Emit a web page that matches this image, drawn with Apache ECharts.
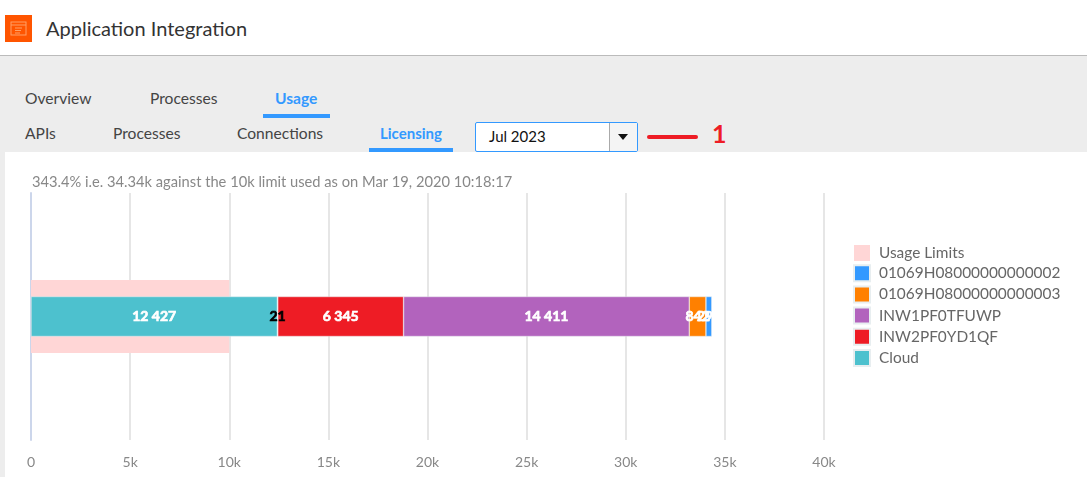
<!DOCTYPE html>
<html>
<head>
<meta charset="utf-8">
<title>Application Integration</title>
<script src="https://cdn.jsdelivr.net/npm/echarts@6/dist/echarts.min.js"></script>
<style>
    html, body { margin: 0; padding: 0; width: 1087px; height: 477px; overflow: hidden; background: #ededed; font-family: Lato, sans-serif; }
    .abs { position: absolute; white-space: nowrap; }
    .header { left: 0; top: 0; width: 1087px; height: 55px; background: #fff; border-bottom: 1px solid #bbb; }
    .title { left: 46px; top: 15px; font-size: 20px; line-height: 26px; color: #333; }
    .tab { font-size: 15.6px; line-height: 20px; color: #444; }
    .active { color: #3399ff; font-weight: bold; }
    .underline { background: #3399ff; height: 4px; }
    .select { left: 475px; top: 122px; width: 161px; height: 28px; background: #fff; border: 1px solid #3399ff; border-radius: 2px; }
    .select span { position: absolute; left: 13px; top: 3px; font-size: 15px; line-height: 20px; color: #111; }
    .select i { position: absolute; left: 133px; top: 0; width: 27px; height: 28px; border-left: 1px solid #aaa; background: #f4f4f4; }
    .select i:after { content: ""; position: absolute; left: 8px; top: 11px; border: 5px solid transparent; border-top: 6px solid #111; border-bottom: 0; }
    .mark { left: 647px; top: 135px; width: 51px; height: 4px; border-radius: 2px; background: #ee1c25; }
    .num { left: 712px; top: 119px; font-size: 25px; line-height: 28px; font-weight: bold; color: #ee1c25; }
    #chart { position: absolute; left: 5px; top: 152px; width: 1082px; height: 325px; background: #fff; }
</style>
</head>
<body>
<div class="abs header"></div>
<svg class="abs" style="left:5px;top:15px" width="27" height="27" viewBox="0 0 27 27">
    <rect width="27" height="27" fill="#ff5500"/>
    <rect x="6" y="7" width="15" height="13" fill="none" stroke="#ffa066" stroke-width="1"/>
    <path d="M6 10H21M10 13H17M10 15.5H16M10 18H15" stroke="#ffa066" stroke-width="1"/>
</svg>
<div class="abs title">Application Integration</div>

<div class="abs tab" style="left:25px;top:88px">Overview</div>
<div class="abs tab" style="left:150px;top:88px">Processes</div>
<div class="abs tab active" style="left:275px;top:88px">Usage</div>
<div class="abs underline" style="left:263px;top:114px;width:67px"></div>

<div class="abs tab" style="left:25px;top:123px">APIs</div>
<div class="abs tab" style="left:113px;top:123px">Processes</div>
<div class="abs tab" style="left:237px;top:123px">Connections</div>
<div class="abs tab active" style="left:380px;top:123px;font-size:15px">Licensing</div>
<div class="abs underline" style="left:369px;top:148px;width:84px"></div>

<div class="abs select"><span>Jul 2023</span><i></i></div>
<div class="abs mark"></div>
<div class="abs num">1</div>

<div id="chart"></div>

<script>
var categories = ['Usage'];
var limitName = 'Usage Limits';
var limitValues = [10000];
var xTicks = [0, 40000];

// left to right along the bar
var segmentNames = ['Cloud', 'Other', 'INW2PF0YD1QF', 'INW1PF0TFUWP', '01069H08000000000003', '01069H08000000000002'];
var cloudValues = [12427];
var otherValues = [21];
var inw2Values = [6345];
var inw1Values = [14411];
var h3Values = [842];
var h2Values = [294];

var legendNames = ['Usage Limits', '01069H08000000000002', '01069H08000000000003', 'INW1PF0TFUWP', 'INW2PF0YD1QF', 'Cloud'];
var subtitle = '343.4% i.e. 34.34k against the 10k limit used as on Mar 19, 2020 10:18:17';

var fontName = 'Lato';

function spacedNumber(value) {
    return String(value).replace(/\B(?=(\d{3})+$)/g, ' ');
}

function segment(name, values, color, labelColor) {
    return {
        name: name,
        type: 'bar',
        stack: 'usage',
        yAxisIndex: 1,
        z: 3,
        barWidth: 40,
        data: values,
        itemStyle: { color: color, borderColor: '#e8eef0', borderWidth: 0.5 },
        label: {
            show: true,
            position: 'inside',
            color: labelColor,
            fontFamily: fontName,
            fontWeight: 'bold',
            fontSize: 14,
            textBorderColor: labelColor,
            textBorderWidth: 0.7,
            formatter: function (p) { return spacedNumber(p.value); }
        }
    };
}

function initChart() {
    var myChart = echarts.init(document.getElementById('chart'));
    var option = {
        animation: false,
        title: {
            text: subtitle,
            left: 22,
            top: 18,
            textStyle: { color: '#888', fontFamily: fontName, fontSize: 14.7, fontWeight: 'normal' }
        },
        legend: {
            orient: 'vertical',
            left: 843,
            top: 88,
            itemWidth: 16,
            itemHeight: 16,
            itemGap: 3.2,
            icon: 'rect',
            data: legendNames,
            textStyle: { color: '#666', fontFamily: fontName, fontSize: 15.4, lineHeight: 16, padding: [0, 0, 0, 4] }
        },
        grid: { left: 26, top: 41, width: 793, height: 247 },
        xAxis: {
            type: 'value',
            min: xTicks[0],
            max: xTicks[1],
            interval: 5000,
            axisLine: { show: false },
            axisTick: { show: false },
            axisLabel: {
                color: '#888',
                fontFamily: fontName,
                fontSize: 14,
                margin: 15,
                formatter: function (v) { return v === 0 ? '0' : (v / 1000) + 'k'; }
            },
            splitLine: { lineStyle: { color: '#e6e6e6', width: 2 } }
        },
        yAxis: [
            {
                type: 'category',
                data: categories,
                axisLine: { lineStyle: { color: '#ccd6eb', width: 2 } },
                axisTick: { length: 11, lineStyle: { color: '#ccd6eb' } },
                axisLabel: { show: false }
            },
            {
                type: 'category',
                data: categories,
                show: false
            }
        ],
        series: [
            {
                name: limitName,
                type: 'bar',
                yAxisIndex: 0,
                z: 2,
                barWidth: 73,
                data: limitValues,
                itemStyle: { color: '#ffd6d6' }
            },
            segment(segmentNames[0], cloudValues, '#4dc1ce', '#fff'),
            segment(segmentNames[1], otherValues, '#cccccc', '#000'),
            segment(segmentNames[2], inw2Values, '#ee1c25', '#fff'),
            segment(segmentNames[3], inw1Values, '#b263bd', '#fff'),
            segment(segmentNames[4], h3Values, '#ff8000', '#fff'),
            segment(segmentNames[5], h2Values, '#3399ff', '#fff')
        ]
    };
    myChart.setOption(option);
}

initChart();
</script>
</body>
</html>
